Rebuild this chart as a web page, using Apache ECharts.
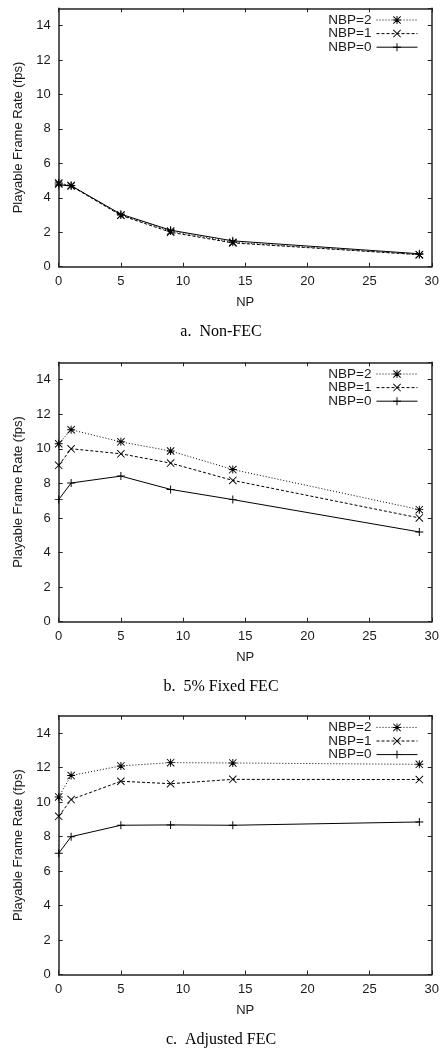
<!DOCTYPE html>
<html>
<head>
<meta charset="utf-8">
<script src="https://cdn.jsdelivr.net/npm/echarts@6/dist/echarts.min.js"></script>
<style>
  html, body { margin: 0; padding: 0; background: #fff; }
  #chart { width: 442px; height: 1049px; }
</style>
</head>
<body>
<div id="chart"></div>
<script>
// ---- Data ----
const npValues = [0, 1, 5, 9, 14, 29];
const seriesNames = ['NBP=2', 'NBP=1', 'NBP=0'];
const captions = ['a.  Non-FEC', 'b.  5% Fixed FEC', 'c.  Adjusted FEC'];
const yTicks = [0, 2, 4, 6, 8, 10, 12, 14];
const xTicks = [0, 5, 10, 15, 20, 25, 30];

const nonFecNbp2 = [4.86, 4.72, 3.00, 2.07, 1.42, 0.70];
const nonFecNbp1 = [4.80, 4.68, 2.98, 2.00, 1.38, 0.70];
const nonFecNbp0 = [4.75, 4.70, 3.05, 2.12, 1.50, 0.75];

const fixedNbp2 = [10.29, 11.10, 10.40, 9.87, 8.80, 6.48];
const fixedNbp1 = [9.04, 10.00, 9.71, 9.17, 8.17, 6.00];
const fixedNbp0 = [7.06, 8.02, 8.42, 7.65, 7.06, 5.19];

const adjNbp2 = [10.29, 11.53, 12.09, 12.28, 12.26, 12.18];
const adjNbp1 = [9.17, 10.14, 11.20, 11.06, 11.31, 11.30];
const adjNbp0 = [7.03, 7.99, 8.65, 8.67, 8.65, 8.84];

const panels = [
  [nonFecNbp2, nonFecNbp1, nonFecNbp0],
  [fixedNbp2, fixedNbp1, fixedNbp0],
  [adjNbp2, adjNbp1, adjNbp0]
];

// ---- Styling ----
const SANS = 'Liberation Sans, Arial, Helvetica, sans-serif';
const SERIF = 'Liberation Serif, Times New Roman, serif';
const TXT = '#1a1a1a';
const FRAME = '#222';

const plusSub = 'M4.4,0H5.6V4.4H10V5.6H5.6V10H4.4V5.6H0V4.4H4.4Z';
const xSub = 'M0,0.8L0.8,0L10,9.2L9.2,10Z M10,0.8L0.8,10L0,9.2L9.2,0Z';
const symbols = ['path://' + plusSub + ' ' + xSub, 'path://' + xSub, 'path://' + plusSub];
const dashTypes = [[1, 2], [3, 2], 'solid'];

const gridTops = [8.3, 362.3, 715.7];
const gridHeights = [258.4, 259.4, 258.8];
const gridLeft = 58.7;
const gridRight = 7.7;

const grids = [], xAxes = [], yAxes = [], series = [], legends = [], titles = [];

panels.forEach((panel, p) => {
  grids.push({ left: gridLeft, right: gridRight, top: gridTops[p], height: gridHeights[p] });
  const axisLine = { show: true, onZero: false, lineStyle: { color: FRAME, width: 1.5 } };
  const tick = { show: true, inside: true, length: 4, lineStyle: { color: FRAME, width: 1 } };
  xAxes.push({
    type: 'value', gridIndex: p, min: xTicks[0], max: xTicks[xTicks.length - 1], interval: 5,
    position: 'bottom',
    axisLine, axisTick: tick, splitLine: { show: false },
    axisLabel: { color: TXT, fontFamily: SANS, fontSize: 13, margin: 8 },
    name: 'NP', nameLocation: 'middle', nameGap: 29,
    nameTextStyle: { color: TXT, fontFamily: SANS, fontSize: 13 }
  });
  xAxes.push({
    type: 'value', gridIndex: p, min: 0, max: 30, interval: 5, position: 'top',
    axisLine, axisTick: tick, axisLabel: { show: false }, splitLine: { show: false }
  });
  yAxes.push({
    type: 'value', gridIndex: p, min: yTicks[0], max: 15, interval: 2, position: 'left',
    axisLine, axisTick: tick, splitLine: { show: false },
    axisLabel: {
      color: TXT, fontFamily: SANS, fontSize: 13, margin: 8, showMaxLabel: false,
      formatter: v => (yTicks.indexOf(v) >= 0 ? String(v) : '')
    },
    name: 'Playable Frame Rate (fps)', nameLocation: 'middle', nameGap: 31,
    nameTextStyle: { color: TXT, fontFamily: SANS, fontSize: 13 }
  });
  yAxes.push({
    type: 'value', gridIndex: p, min: 0, max: 15, interval: 2, position: 'right',
    axisLine, axisTick: tick, axisLabel: { show: false }, splitLine: { show: false }
  });
  panel.forEach((vals, s) => {
    series.push({
      type: 'line', name: seriesNames[s],
      xAxisIndex: p * 2, yAxisIndex: p * 2,
      data: npValues.map((x, i) => [x, vals[i]]),
      symbol: symbols[s], symbolSize: 8, showAllSymbol: true,
      clip: false, animation: false,
      lineStyle: { color: '#000', width: 1, type: dashTypes[s] },
      itemStyle: { color: '#000' }
    });
  });
  legends.push({
    orient: 'vertical', align: 'right', right: 24, top: gridTops[p] + 4.7,
    padding: 0, itemWidth: 41, itemHeight: 10, itemGap: -0.4,
    selectedMode: false,
    data: seriesNames,
    lineStyle: { width: 1 },
    textStyle: { color: TXT, fontFamily: SANS, fontSize: 13.5 }
  });
  titles.push({
    text: captions[p], left: 'center', top: gridTops[p] + gridHeights[p] + 52,
    textStyle: { color: '#000', fontFamily: SERIF, fontSize: 16, fontWeight: 'normal' }
  });
});

const chart = echarts.init(document.getElementById('chart'), null, { renderer: 'canvas' });
chart.setOption({
  backgroundColor: '#fff',
  animation: false,
  title: titles,
  grid: grids,
  xAxis: xAxes,
  yAxis: yAxes,
  legend: legends,
  series: series
});
</script>
</body>
</html>
